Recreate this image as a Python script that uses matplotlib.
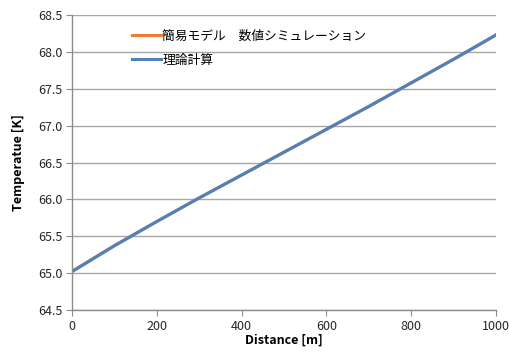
import matplotlib
matplotlib.use('Agg')
import matplotlib.pyplot as plt

plt.rcParams['font.family'] = ['Noto Sans CJK JP', 'DejaVu Sans']

# Distance [m]
distance = [0, 100, 200, 300, 400, 500, 600, 700, 800, 900, 1000]
# Simple model (numerical simulation) temperature [K]
temp_sim = [65.025, 65.375, 65.70, 66.02, 66.33, 66.64, 66.95, 67.26, 67.58, 67.90, 68.23]
# Theoretical calculation temperature [K]
temp_theory = [65.02, 65.37, 65.70, 66.02, 66.33, 66.64, 66.95, 67.26, 67.58, 67.90, 68.23]

labels = ['簡易モデル　数値シミュレーション', '理論計算']
yticks = [64.5, 65.0, 65.5, 66.0, 66.5, 67.0, 67.5, 68.0, 68.5]
xticks = [0, 200, 400, 600, 800, 1000]

fig = plt.figure(figsize=(5.09, 3.54), dpi=100)
ax = fig.add_axes([0.1415, 0.1243, 0.833, 0.8333])

ax.plot(distance, temp_sim, color='#ED7D31', linewidth=2.2, label=labels[0])
ax.plot(distance, temp_theory, color='#4F81BD', linewidth=2.2, label=labels[1])

ax.set_xlim(0, 1000)
ax.set_ylim(64.5, 68.5)
ax.set_xticks(xticks)
ax.set_yticks(yticks)
ax.set_yticklabels([f'{v:.1f}' for v in yticks])

ax.grid(True, axis='y', color='#a6a6a6', linewidth=1.0)
ax.set_axisbelow(True)
for side in ['top', 'right']:
    ax.spines[side].set_visible(False)
for side in ['left', 'bottom']:
    ax.spines[side].set_color('#8c8c8c')
    ax.spines[side].set_linewidth(1.0)
ax.tick_params(axis='both', direction='out', length=4, color='#8c8c8c',
               labelsize=9, labelcolor='#262626', pad=3)

ax.set_xlabel('Distance [m]', fontsize=9, fontweight='bold', labelpad=1)
ax.set_ylabel('Temperatue [K]', fontsize=9, fontweight='bold', labelpad=9)

ax.legend(loc='upper left', bbox_to_anchor=(0.141, 0.95), frameon=False,
          fontsize=9.2, handlelength=2.3, handletextpad=0.1, labelspacing=0.85,
          borderpad=0, borderaxespad=0)

fig.savefig('out.png', dpi=100)
